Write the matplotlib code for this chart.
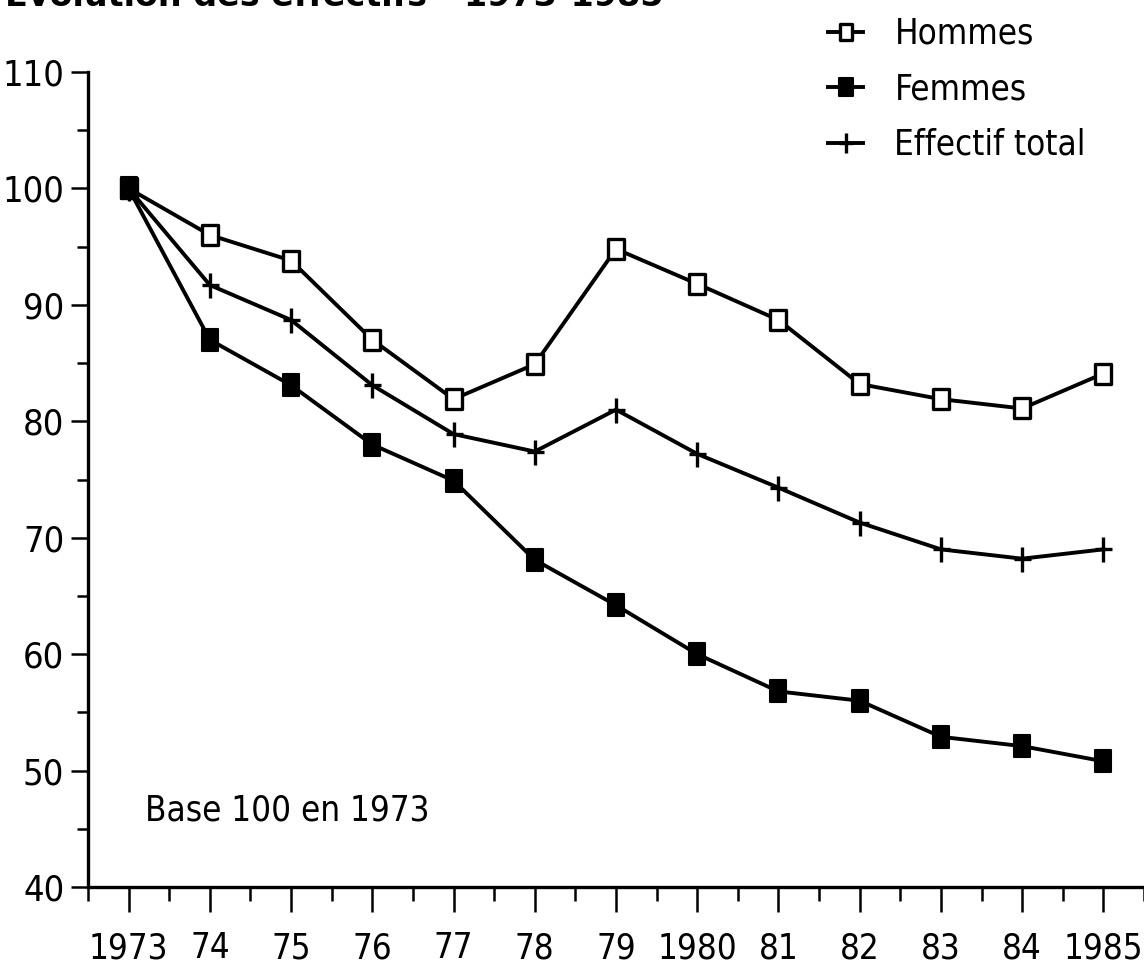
import numpy as np
import matplotlib
matplotlib.use("Agg")
import matplotlib.pyplot as plt
from matplotlib.path import Path
from matplotlib.ticker import MultipleLocator

## Data (base 100 in 1973)
years = [1973, 1974, 1975, 1976, 1977, 1978, 1979, 1980, 1981, 1982, 1983, 1984, 1985]
year_labels = ["1973", "74", "75", "76", "77", "78", "79", "1980", "81", "82", "83", "84", "1985"]
hommes = [100, 96, 93.8, 87, 81.9, 84.9, 94.8, 91.8, 88.7, 83.2, 81.9, 81.1, 84.1]
femmes = [100, 87, 83.1, 78, 74.9, 68.1, 64.2, 60, 56.8, 56, 52.9, 52.1, 50.8]
total = [100, 91.7, 88.7, 83.1, 78.9, 77.4, 81, 77.2, 74.3, 71.3, 69, 68.2, 69]
y_ticks = [40, 50, 60, 70, 80, 90, 100, 110]

plt.rcParams['font.family'] = ["DejaVu Sans"]
plt.rcParams['font.stretch'] = "condensed"

# tall rectangle marker and a plus with a longer vertical arm
rect = Path([(-0.38, -0.5), (0.38, -0.5), (0.38, 0.5), (-0.38, 0.5), (-0.38, -0.5)],
            [Path.MOVETO, Path.LINETO, Path.LINETO, Path.LINETO, Path.CLOSEPOLY])
plus = Path([(0, -0.5), (0, 0.5), (-0.34, 0), (0.34, 0)],
            [Path.MOVETO, Path.LINETO, Path.MOVETO, Path.LINETO])

fig = plt.figure(figsize=(11.44, 9.74), dpi=100)
ax = fig.add_axes([0.0769, 0.0893, 0.9231, 0.8368])

ax.plot(years, hommes, color="black", lw=2.8, marker=rect, markersize=15,
        markerfacecolor="white", markeredgecolor="black", markeredgewidth=2.4, label="Hommes", zorder=3)
ax.plot(years, femmes, color="black", lw=2.8, marker=rect, markersize=16,
        markerfacecolor="black", markeredgecolor="black", markeredgewidth=1.5, label="Femmes", zorder=3)
ax.plot(years, total, color="black", lw=2.8, marker=plus, markersize=18,
        markeredgewidth=2.4, label="Effectif total", zorder=3)

ax.set_xlim(1972.5, 1985.5)
ax.set_ylim(40, 110)
ax.set_xticks(years)
ax.set_xticklabels(year_labels)
ax.xaxis.set_minor_locator(MultipleLocator(0.5))
ax.set_yticks(y_ticks)
ax.yaxis.set_minor_locator(MultipleLocator(5))

for s in ["top", "right"]:
    ax.spines[s].set_visible(False)
for s in ["left", "bottom"]:
    ax.spines[s].set_linewidth(2.4)

ax.tick_params(axis="x", which="major", length=18, width=1.8, direction="out", labelsize=25, pad=14)
ax.tick_params(axis="x", which="minor", length=10, width=1.8, direction="out")
ax.tick_params(axis="y", which="major", length=12, width=1.8, direction="out", labelsize=26, pad=5)
ax.tick_params(axis="y", which="minor", length=8, width=1.8, direction="out")

ax.text(1973.2, 46.6, "Base 100 en 1973", fontsize=25, ha="left", va="center")

leg = fig.legend(loc="upper left", bbox_to_anchor=(0.712, 0.997), fontsize=25, frameon=False,
                 handlelength=1.0, handletextpad=0.9, labelspacing=0.62, markerscale=0.8,
                 borderaxespad=0)

# title, cut off by the top edge in the scan
fig.text(0.004, 0.9935, "Evolution des effectifs - 1973-1985", fontsize=24, fontweight="bold",
         fontstretch="normal", ha="left", va="baseline")

plt.savefig("out.png", dpi=100)
